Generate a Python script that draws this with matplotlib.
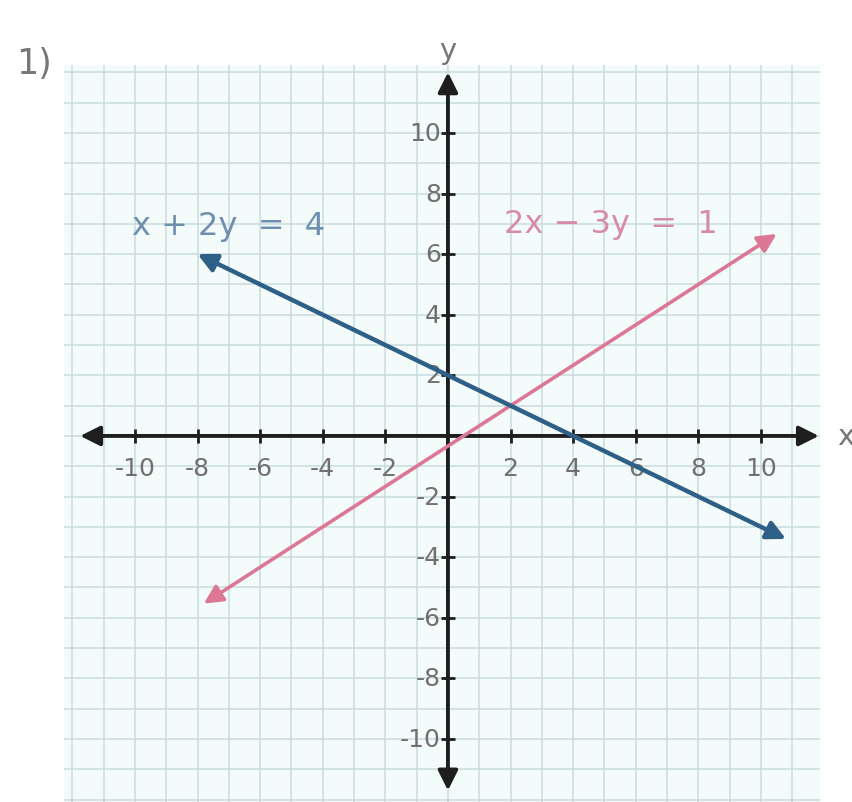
import numpy as np
import matplotlib.pyplot as plt
import matplotlib.patches as mpatches

# two linear equations a*x + b*y = c, drawn between the given x ends
blue_eq = (1, 2, 4)
pink_eq = (2, -3, 1)
blue_x = [-8, 10.8]
pink_x = [-7.8, 10.5]

blue_label = "x + 2y  =  4"
pink_label = "2x \u2212 3y  =  1"

tick_vals = [-10, -8, -6, -4, -2, 2, 4, 6, 8, 10]
x_tick_labels = ["-10", "-8", "-6", "-4", "-2", "2", "4", "6", "8", "10"]
y_tick_labels = ["-10", "-8", "-6", "-4", "-2", "2", "4", "6", "8", "10"]

grid_x = np.arange(-12, 12)
grid_y = np.arange(-12, 13)


def line_y(eq, xs):
    a, b, c = eq
    return [(c - a * x) / b for x in xs]


fig = plt.figure(figsize=(8.53, 8.03), dpi=100)
ax = fig.add_axes([0, 0, 1, 1])
ax.set_xlim(-14.31, 12.94)
ax.set_ylim(-12.08, 14.42)
ax.axis("off")

### graph paper
gx0, gx1 = -12.25, 11.9
gy0, gy1 = -12.08, 12.25
ax.add_patch(mpatches.Rectangle((gx0, gy0), gx1 - gx0, gy1 - gy0,
                                facecolor="#f4fbfb", edgecolor="none", zorder=0))
ax.vlines(grid_x, gy0, gy1, color="#cadbdc", lw=1.1, zorder=1)
ax.hlines(grid_y, gx0, gx1, color="#cadbdc", lw=1.1, zorder=1)

### axes with arrows at both ends
axis_kw = dict(arrowstyle="<|-|>", mutation_scale=30, lw=2.8, color="#1e1e1e",
               shrinkA=0, shrinkB=0)
ax.annotate("", xy=(11.85, 0), xytext=(-11.75, 0), arrowprops=axis_kw, zorder=3)
ax.annotate("", xy=(0, 12.0), xytext=(0, -11.7), arrowprops=axis_kw, zorder=3)

# small tick marks
ax.plot(tick_vals, [0] * len(tick_vals), ls="none", marker="|", ms=10, mew=2,
        color="#1e1e1e", zorder=3)
ax.plot([0] * len(tick_vals), tick_vals, ls="none", marker="_", ms=10, mew=2,
        color="#1e1e1e", zorder=3)

for v, lab in zip(tick_vals, x_tick_labels):
    ax.text(v, -1.05, lab, ha="center", va="center", fontsize=18,
            color="#707070", zorder=4)
for v, lab in zip(tick_vals, y_tick_labels):
    ax.text(-0.22, v, lab, ha="right", va="center", fontsize=18,
            color="#707070", zorder=4)

ax.text(12.7, 0, "x", ha="center", va="center", fontsize=21, color="#777777")
ax.text(0, 12.75, "y", ha="center", va="center", fontsize=21, color="#777777")
fig.text(0.04, 0.92, "1)", ha="center", va="center", fontsize=25, color="#777777")

### the two lines
blue_kw = dict(arrowstyle="<|-|>", mutation_scale=28, lw=3.2, color="#2e5f86",
               shrinkA=0, shrinkB=0)
pink_kw = dict(arrowstyle="<|-|>", mutation_scale=28, lw=2.6, color="#dc7895",
               shrinkA=0, shrinkB=0)
by = line_y(blue_eq, blue_x)
py = line_y(pink_eq, pink_x)
ax.annotate("", xy=(blue_x[1], by[1]), xytext=(blue_x[0], by[0]),
            arrowprops=blue_kw, zorder=5)
ax.annotate("", xy=(pink_x[1], py[1]), xytext=(pink_x[0], py[0]),
            arrowprops=pink_kw, zorder=4)

ax.text(-7.0, 6.95, blue_label, ha="center", va="center", fontsize=23,
        color="#6e8fae", zorder=4)
ax.text(5.2, 7.0, pink_label, ha="center", va="center", fontsize=23,
        color="#d68ca6", zorder=4)

fig.savefig("out.png", dpi=100)
